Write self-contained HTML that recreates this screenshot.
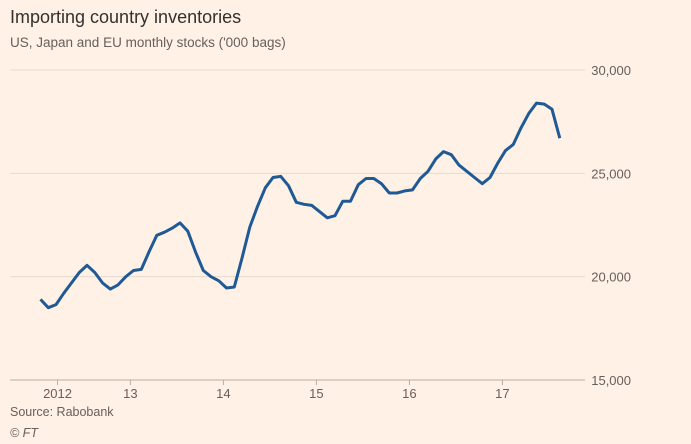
<!DOCTYPE html>
<html><head><meta charset="utf-8"><style>
body{margin:0;background:#fff1e5;font-family:"Liberation Sans",sans-serif;}
</style></head><body>
<svg width="691" height="444" xmlns="http://www.w3.org/2000/svg" style="display:block">
<rect width="691" height="444" fill="#fff1e5"/>
<text x="10" y="23" font-size="18" fill="#33302e">Importing country inventories</text>
<text x="10" y="47" font-size="13.5" fill="#66605c">US, Japan and EU monthly stocks ('000 bags)</text>
<g id="grid"></g>
<g id="xaxis"></g>
<path id="line" fill="none" stroke="#1f5a96" stroke-width="3" stroke-linejoin="round"/>
<text x="10" y="416" font-size="12.5" fill="#66605c">Source: Rabobank</text>
<text x="10" y="437" font-size="12.5" font-style="italic" fill="#66605c">© FT</text>
</svg>
<script>
const values=[18900,18500,18650,19200,19700,20200,20550,20200,19700,19400,19600,20000,20300,20350,21200,22000,22150,22350,22600,22200,21200,20300,20000,19800,19450,19500,20900,22400,23400,24300,24800,24850,24400,23600,23500,23450,23150,22850,22950,23650,23650,24450,24750,24750,24500,24050,24050,24150,24200,24750,25100,25700,26050,25900,25400,25100,24800,24500,24800,25500,26100,26400,27200,27900,28400,28350,28100,26700];
const yTicks=[15000,20000,25000,30000];
const yTickLabels=["15,000","20,000","25,000","30,000"];
const xLabels=["2012","13","14","15","16","17"];
const xLabelMonths=[2.2,11.6,23.6,35.6,47.6,59.6];
const NS="http://www.w3.org/2000/svg";
const xs=i=>40.5+i*7.75;
const ys=v=>380-(v-15000)*310/15000;
const grid=document.getElementById('grid');
yTicks.forEach((t,i)=>{
 const l=document.createElementNS(NS,'line');
 l.setAttribute('x1',10);l.setAttribute('x2',585);
 l.setAttribute('y1',ys(t));l.setAttribute('y2',ys(t));
 l.setAttribute('stroke',i===0?'#b8aea5':'#e6d9ce');l.setAttribute('stroke-width',1);
 
 
 grid.appendChild(l);
 const tx=document.createElementNS(NS,'text');
 tx.setAttribute('x',631);tx.setAttribute('y',ys(t)+5);tx.setAttribute('text-anchor','end');
 tx.setAttribute('font-size','13');tx.setAttribute('fill','#66605c');
 tx.textContent=yTickLabels[i];
 
 
 grid.appendChild(tx);
});
const xa=document.getElementById('xaxis');
xLabels.forEach((s,i)=>{
 const x=xs(xLabelMonths[i]);
 const tk=document.createElementNS(NS,'line');
 tk.setAttribute('x1',x);tk.setAttribute('x2',x);tk.setAttribute('y1',380);tk.setAttribute('y2',385);
 tk.setAttribute('stroke','#b8aea5');
 
 
 xa.appendChild(tk);
 const tx=document.createElementNS(NS,'text');
 tx.setAttribute('x',x);tx.setAttribute('y',398);tx.setAttribute('text-anchor','middle');
 tx.setAttribute('font-size','13');tx.setAttribute('fill','#66605c');
 tx.textContent=s;
 
 
 xa.appendChild(tx);
});
document.getElementById('line').setAttribute('d',values.map((v,i)=>(i?'L':'M')+xs(i).toFixed(1)+' '+ys(v).toFixed(1)).join(' '));
</script>
</body></html>
